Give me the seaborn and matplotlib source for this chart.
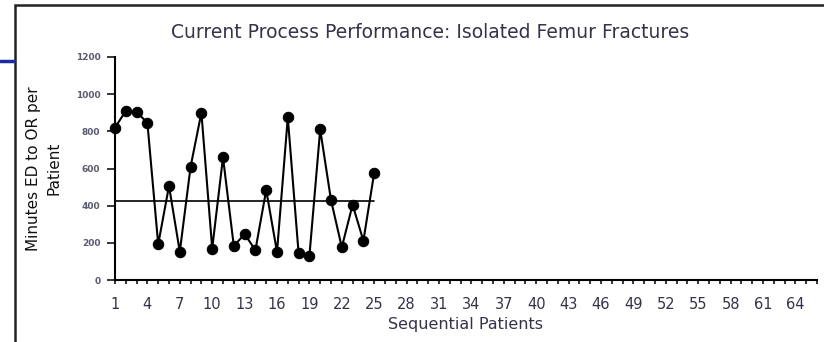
import matplotlib
matplotlib.use("Agg")
import matplotlib.pyplot as plt
import seaborn as sns
import pandas as pd
from matplotlib.lines import Line2D
from matplotlib.patches import Rectangle

# ---- data ----
patients = list(range(1, 26))
minutes = [820, 910, 905, 845, 192, 506, 152, 610, 900, 169,
           660, 183, 247, 161, 484, 151, 875, 143, 129, 810,
           430, 176, 405, 211, 577]
center_line = 425
x_tick_labels = list(range(1, 65, 3))
y_ticks = [0, 200, 400, 600, 800, 1000, 1200]

title = "Current Process Performance: Isolated Femur Fractures"
x_label = "Sequential Patients"
y_label = "Minutes ED to OR per\nPatient"

df = pd.DataFrame({"patient": patients, "minutes": minutes})

sns.set_style("ticks")
plt.rcParams['font.family'] = ['DejaVu Sans']

fig = plt.figure(figsize=(8.24, 3.42), dpi=100)
ax = fig.add_axes([115 / 824, 1 - 280 / 342, (817 - 115) / 824, (280 - 57) / 342])

sns.lineplot(data=df, x="patient", y="minutes", ax=ax, color="black",
             linewidth=1.5, marker="o", markersize=7.5,
             markeredgecolor="black", markerfacecolor="black", clip_on=False)
ax.plot([patients[0], patients[-1]], [center_line, center_line],
        color="black", linewidth=1.2)

ax.set_xlim(1, 66)
ax.set_ylim(0, 1200)
ax.set_xticks(range(1, 67), minor=True)
ax.set_xticks(x_tick_labels)
ax.set_xticklabels([str(v) for v in x_tick_labels])
ax.set_yticks(y_ticks)
ax.set_yticklabels([str(v) for v in y_ticks])

txt_color = "#34334a"
ax.tick_params(axis="x", which="both", direction="out", length=3, width=1.3,
               labelsize=10.5, labelcolor=txt_color, pad=9)
ax.tick_params(axis="y", direction="out", length=5.5, width=1.3,
               labelsize=6.5, labelcolor="#5a5a70", pad=5)
for lbl in ax.get_yticklabels():
    lbl.set_fontweight("bold")
for s in ["top", "right"]:
    ax.spines[s].set_visible(False)
for s in ["left", "bottom"]:
    ax.spines[s].set_linewidth(1.5)
    ax.spines[s].set_color("black")

ax.set_xlabel(x_label, fontsize=11.5, color=txt_color, labelpad=4)
ax.set_ylabel(y_label, fontsize=11, color="#111111", labelpad=10,
              multialignment="center", linespacing=1.45)
fig.text(430 / 824, 1 - 33 / 342, title, fontsize=13.5, color=txt_color,
         ha="center", va="center")

# outer frame and left stub as in the reference
fig.patches.append(Rectangle((15 / 824, -0.1), 1.2, 1 - 5 / 342 + 0.1,
                             transform=fig.transFigure, fill=False,
                             edgecolor="#222222", linewidth=1.8))
fig.lines.append(Line2D([0, 14 / 824], [1 - 61 / 342, 1 - 61 / 342],
                        transform=fig.transFigure, color="#1a2aa0",
                        linewidth=2.5))

fig.savefig("out.png", dpi=100)
